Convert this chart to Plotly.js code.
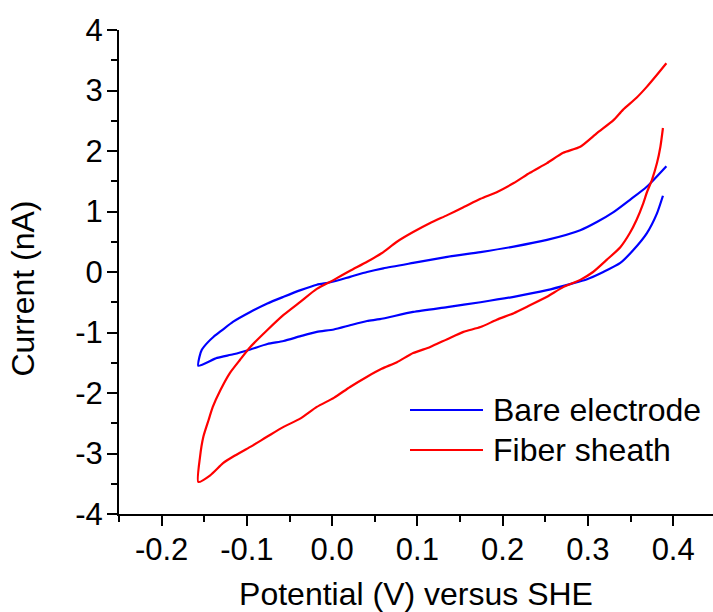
<!DOCTYPE html>
<html>
<head>
<meta charset="utf-8">
<script src="https://cdn.plot.ly/plotly-3.0.1.min.js"></script>
<style>
html,body{margin:0;padding:0;background:#fff;}
#chart{width:713px;height:612px;}
</style>
</head>
<body>
<div id="chart"></div>
<script>
// Series names
var seriesNames = ["Bare electrode", "Fiber sheath"];
var seriesColors = ["#0000ff", "#ff0000"];

// Bare electrode: upper branch (right -> left tip), then lower branch (tip -> right)
var bareV = [0.392,0.369,0.349,0.330,0.311,0.291,0.252,0.213,0.174,0.135,0.095,0.060,0.041,0.021,-0.002,-0.018,-0.037,-0.057,-0.076,-0.096,-0.116,-0.129,-0.139,-0.147,-0.153,-0.1556,-0.157,
             -0.135,-0.116,-0.096,-0.076,-0.057,-0.037,-0.018,0.002,0.021,0.041,0.056,0.095,0.135,0.174,0.213,0.252,0.279,0.299,0.318,0.338,0.353,0.369,0.381,0.388];
var bareI = [1.75,1.41,1.19,0.99,0.83,0.69,0.53,0.42,0.33,0.25,0.15,0.06,0.00,-0.08,-0.17,-0.21,-0.30,-0.41,-0.52,-0.66,-0.82,-0.96,-1.07,-1.18,-1.29,-1.40,-1.55,
             -1.42,-1.36,-1.28,-1.19,-1.14,-1.06,-0.99,-0.95,-0.88,-0.81,-0.78,-0.66,-0.58,-0.50,-0.41,-0.30,-0.20,-0.12,0.00,0.15,0.36,0.64,0.97,1.26];

// Fiber sheath: upper branch (right -> left tip), then lower branch (tip -> right)
var fiberV = [0.392,0.381,0.369,0.357,0.341,0.330,0.311,0.291,0.271,0.252,0.232,0.213,0.193,0.174,0.154,0.135,0.115,0.095,0.076,0.058,0.041,0.021,0.002,-0.018,-0.037,-0.057,-0.076,-0.096,-0.108,-0.120,-0.131,-0.140,-0.145,-0.151,-0.155,-0.157,
              -0.143,-0.128,-0.116,-0.096,-0.076,-0.057,-0.037,-0.018,0.002,0.021,0.041,0.058,0.076,0.095,0.115,0.135,0.154,0.174,0.193,0.213,0.232,0.252,0.271,0.291,0.306,0.322,0.338,0.349,0.357,0.365,0.369,0.375,0.381,0.385,0.388];
var fiberI = [3.45,3.26,3.06,2.88,2.68,2.51,2.30,2.07,1.97,1.80,1.64,1.47,1.32,1.21,1.07,0.94,0.81,0.66,0.50,0.31,0.17,0.02,-0.13,-0.28,-0.49,-0.71,-0.96,-1.24,-1.45,-1.67,-1.95,-2.23,-2.45,-2.72,-3.06,-3.47,
              -3.36,-3.16,-3.05,-2.89,-2.72,-2.56,-2.42,-2.23,-2.08,-1.90,-1.73,-1.60,-1.49,-1.34,-1.24,-1.11,-0.99,-0.91,-0.79,-0.68,-0.55,-0.41,-0.25,-0.13,0.00,0.20,0.41,0.64,0.86,1.14,1.31,1.52,1.80,2.07,2.38];

// Axis ticks
var xTickVals = [-0.2,-0.1,0.0,0.1,0.2,0.3,0.4];
var xTickText = ["-0.2","-0.1","0.0","0.1","0.2","0.3","0.4"];
var yTickVals = [-4,-3,-2,-1,0,1,2,3,4];
var yTickText = ["-4","-3","-2","-1","0","1","2","3","4"];

var FONT = "Liberation Sans, Arial, sans-serif";

var traces = [
  {x: bareV, y: bareI, mode: "lines", name: seriesNames[0], line: {color: seriesColors[0], width: 2.2, shape: "spline", smoothing: 0.6}},
  {x: fiberV, y: fiberI, mode: "lines", name: seriesNames[1], line: {color: seriesColors[1], width: 2.2, shape: "spline", smoothing: 0.6}}
];

// Manual legend (line samples + labels), paper coordinates
var legendShapes = [];
var legendAnn = [];
var legY = [0.2149, 0.1322];
for (var i = 0; i < seriesNames.length; i++) {
  legendShapes.push({type: "line", xref: "paper", yref: "paper", x0: 0.4899, x1: 0.6128, y0: legY[i], y1: legY[i],
                     line: {color: seriesColors[i], width: 2}});
  legendAnn.push({xref: "paper", yref: "paper", x: 0.6262, y: legY[i], xanchor: "left", yanchor: "middle",
                  text: seriesNames[i], showarrow: false, font: {family: FONT, size: 32, color: "#000"}});
}
legendAnn.push({xref: "paper", yref: "paper", x: -0.1632, y: 0.4659, xanchor: "center", yanchor: "middle",
                textangle: -90, text: "Current (nA)", showarrow: false, font: {family: FONT, size: 32, color: "#000"}});

var layout = {
  width: 713, height: 612,
  margin: {l: 119, r: 0, t: 30, b: 98, pad: 0},
  paper_bgcolor: "#fff", plot_bgcolor: "#fff",
  showlegend: false,
  font: {family: FONT, color: "#000"},
  xaxis: {
    range: [-0.25, 0.4467], showgrid: false, zeroline: false,
    showline: true, linecolor: "#000", linewidth: 2,
    ticks: "outside", ticklen: 10, tickwidth: 2, tickcolor: "#000",
    tickvals: xTickVals, ticktext: xTickText,
    tickfont: {family: FONT, size: 31, color: "#000"},
    ticklabelstandoff: -3,
    minor: {ticks: "outside", ticklen: 6, tickwidth: 2, tickcolor: "#000", dtick: 0.05, tick0: 0},
    title: {text: "Potential (V) versus SHE", font: {family: FONT, size: 32, color: "#000"}, standoff: 16}
  },
  yaxis: {
    range: [-4, 4], showgrid: false, zeroline: false,
    showline: true, linecolor: "#000", linewidth: 2,
    ticks: "outside", ticklen: 10, tickwidth: 2, tickcolor: "#000",
    tickvals: yTickVals, ticktext: yTickText,
    tickfont: {family: FONT, size: 31, color: "#000"},
    ticklabelstandoff: -2,
    minor: {ticks: "outside", ticklen: 6, tickwidth: 2, tickcolor: "#000", dtick: 0.5, tick0: 0}
  },
  shapes: legendShapes,
  annotations: legendAnn
};

Plotly.newPlot("chart", traces, layout, {displayModeBar: false, staticPlot: true});
</script>
</body>
</html>
